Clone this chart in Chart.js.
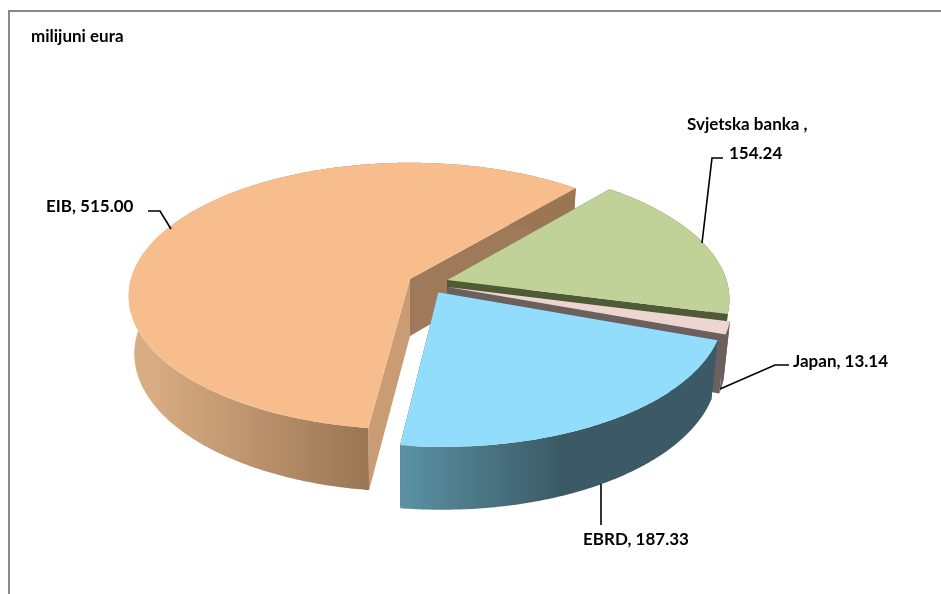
<!DOCTYPE html>
<html>
<head>
<meta charset="utf-8">
<title>milijuni eura</title>
<script src="https://cdn.jsdelivr.net/npm/chart.js@4"></script>
<style>
  html, body { margin: 0; padding: 0; background: #fff; overflow: hidden; }
  canvas { display: block; }
</style>
</head>
<body>
<canvas id="pie3d" width="941" height="594"></canvas>
<script>
// data
var categories = ['EIB', 'Svjetska banka', 'Japan', 'EBRD'];
var values = [515.00, 154.24, 13.14, 187.33];
var unitLabel = 'milijuni eura';

// look of the slices
var topColors = ['#f7bd8c', '#c1d298', '#edd6d2', '#92ddfb'];
var wallStart = ['#d9ad83', '#4f5b36', '#6b605d', '#5c92a6'];
var wallEnd = ['#9a7655', '#4f5b36', '#6b605d', '#3b5a66'];
var wallRange = [[150, 366], [0, 941], [0, 941], [398, 560]];
var faceColors = [['#c99c74', '#9f7a5a'], ['#4f5b36', '#4f5b36'], ['#6b605d', '#6b605d'], ['#3b5a66', '#3b5a66']];
// how far each slice is pulled out, in pie radii
var explode = [[0, 0], [0.133, 0.008], [0.133, 0.06], [0.1, 0.1]];

// fake 3d: tilt and perspective of the pie plane
var tilt = 0.47, persp = 0.128, depth = 57, lowX = 0.98, lowY = 1.035;

// labels and leader lines
var labelFont = 'bold 17px Lato, sans-serif';
var leaders = [
    [[148, 211], [160, 211], [171, 229]],
    [[723, 158], [712, 158], [702, 243]],
    [[789, 365], [775, 365], [720, 389]],
    [[601, 484], [601, 525]]
];
var labelPos = [[46, 212], [687, 130], [793, 367], [583, 545]];

function project(el, i, angle, r, low) {
    var X = explode[i][0] + r * Math.cos(angle);
    var Y = explode[i][1] + r * Math.sin(angle);
    var w = 1 - persp * Y;
    var dx = el.outerRadius * X / w;
    var dy = el.outerRadius * tilt * Y / w;
    if (low) return [el.x + dx * lowX, el.y + depth + dy * lowY];
    return [el.x + dx, el.y + dy];
}

function arcPoints(el, i, low) {
    var pts = [];
    var steps = Math.ceil((el.endAngle - el.startAngle) / 0.01);
    for (var s = 0; s <= steps; s++) {
        pts.push(project(el, i, el.startAngle + (el.endAngle - el.startAngle) * s / steps, 1, low));
    }
    return pts;
}

function fillPoly(ctx, pts, fill) {
    ctx.beginPath();
    pts.forEach(function (p, n) {
        if (n === 0) ctx.moveTo(p[0], p[1]);
        else ctx.lineTo(p[0], p[1]);
    });
    ctx.closePath();
    ctx.fillStyle = fill;
    ctx.fill();
}

var pie3d = {
    id: 'pie3d',
    beforeDraw: function (chart) {
        var ctx = chart.ctx;
        ctx.save();
        ctx.strokeStyle = '#898989';
        ctx.lineWidth = 2;
        ctx.beginPath();
        ctx.moveTo(9, 594);
        ctx.lineTo(9, 11);
        ctx.lineTo(941, 11);
        ctx.stroke();
        ctx.restore();
    },
    afterDatasetsDraw: function (chart) {
        var ctx = chart.ctx;
        var arcs = chart.getDatasetMeta(0).data;
        ctx.save();
        arcs.forEach(function (el, i) {
            var top = arcPoints(el, i, false);
            var low = arcPoints(el, i, true);
            var apex = project(el, i, 0, 0, false);
            var apexLow = project(el, i, 0, 0, true);

            // the two cut faces
            fillPoly(ctx, [apex, top[0], low[0], apexLow], faceColors[i][0]);
            fillPoly(ctx, [apex, top[top.length - 1], low[low.length - 1], apexLow], faceColors[i][1]);

            // outer wall
            var grad = ctx.createLinearGradient(wallRange[i][0], 0, wallRange[i][1], 0);
            grad.addColorStop(0, wallStart[i]);
            grad.addColorStop(1, wallEnd[i]);
            fillPoly(ctx, top.concat(low.slice().reverse()), grad);

            // top
            fillPoly(ctx, [apex].concat(top), topColors[i]);
        });

        // leader lines
        ctx.strokeStyle = '#000';
        ctx.lineWidth = 1.6;
        leaders.forEach(function (line) {
            ctx.beginPath();
            line.forEach(function (p, n) {
                if (n === 0) ctx.moveTo(p[0], p[1]);
                else ctx.lineTo(p[0], p[1]);
            });
            ctx.stroke();
        });

        // text
        ctx.fillStyle = '#000';
        ctx.font = labelFont;
        ctx.textBaseline = 'alphabetic';
        ctx.fillText(unitLabel, 31, 42);
        categories.forEach(function (name, i) {
            var val = values[i].toFixed(2);
            if (name === 'Svjetska banka') {
                ctx.fillText(name + ' ,', labelPos[i][0], labelPos[i][1]);
                ctx.fillText(val, 729, 159);
            } else {
                ctx.fillText(name + ', ' + val, labelPos[i][0], labelPos[i][1]);
            }
        });
        ctx.restore();
    }
};

var ctx = document.getElementById('pie3d').getContext('2d');
var chart = new Chart(ctx, {
    type: 'pie',
    data: {
        labels: categories,
        datasets: [{
            data: values,
            backgroundColor: 'rgba(0,0,0,0)',
            borderWidth: 0
        }]
    },
    options: {
        responsive: false,
        animation: false,
        rotation: 187.5,
        layout: { padding: { left: 0, right: 121, top: 0, bottom: 36 } },
        plugins: {
            legend: { display: false },
            tooltip: { enabled: false }
        }
    },
    plugins: [pie3d]
});
</script>
</body>
</html>
